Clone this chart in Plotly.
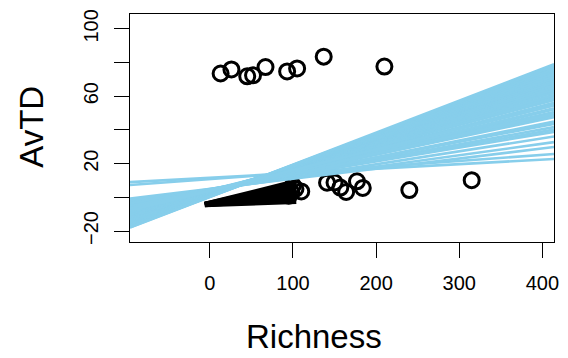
import plotly.graph_objects as go

# ---------------- data ----------------
# regression lines (abline style): intercepts and slopes
line_intercepts = [11.6, 10.8, 5.0, 4.6, 4.2, 4.9, 4.4, 4.7, 4.0, 4.5, 3.9, 4.3, 4.1, 3.6,
                   4.4, 3.8, 3.2, 3.9, 3.5, 3.0, 3.7, 2.9, 3.3, 2.6, 3.1, 2.4, 2.8, 2.2,
                   2.6, 1.9, 2.3, 1.7, 2.0, 1.4, 1.8, 1.2, 1.5, 0.9, 1.3, 0.7, 1.0, 0.5,
                   0.8, 0.3, 0.6, 0.2, 0.4, 4.6, 4.2, 4.0, 3.8]
line_slopes = [0.027, 0.036, 0.060, 0.068, 0.077, 0.082, 0.090, 0.094, 0.099, 0.104, 0.108,
               0.112, 0.116, 0.119, 0.121, 0.125, 0.128, 0.130, 0.133, 0.136, 0.137, 0.140,
               0.142, 0.145, 0.146, 0.149, 0.151, 0.153, 0.155, 0.157, 0.159, 0.161, 0.163,
               0.165, 0.166, 0.168, 0.170, 0.172, 0.174, 0.176, 0.178, 0.180, 0.182, 0.184,
               0.186, 0.188, 0.190, 0.086, 0.097, 0.110, 0.123]

# dense low-richness cloud (observed, drawn as a fan of black traces)
cloud_x = [-6, 104]
cloud_start_y = [-4.4, -4.4, -4.3, -4.3, -4.2, -4.2, -4.1, -4.1]
cloud_end_y = [-2.4, -0.8, 1.0, 2.8, 4.5, 6.2, 7.9, 9.4]

# individual sites
richness = [13, 26, 45, 52, 67, 93, 105, 137, 210,
            141, 150, 157, 164, 177, 184, 240, 315,
            103, 110, 98, 100, 95]
avtd = [73.5, 75.9, 71.8, 72.4, 77.3, 74.7, 76.5, 83.5, 77.6,
        8.7, 8.8, 5.8, 3.2, 9.5, 5.6, 4.3, 10.2,
        5.0, 3.5, 3.0, 7.0, 1.0]

x_range = [-96, 414]
y_range = [-26.5, 108.8]
x_ticks = [0, 100, 200, 300, 400]
y_ticks = [-20, 0, 20, 40, 60, 80, 100]
y_ticktext = ["\u221220", "", "20", "", "60", "", "100"]

# ---------------- figure ----------------
fig = go.Figure()

# black dense cloud
cx, cy = [], []
for s, e in zip(cloud_start_y, cloud_end_y):
    cx += [cloud_x[0], cloud_x[1], None]
    cy += [s, e, None]
fig.add_trace(go.Scatter(x=cx, y=cy, mode="lines",
                         line=dict(color="black", width=5), hoverinfo="skip",
                         showlegend=False))

fig.add_trace(go.Scatter(x=richness, y=avtd, mode="markers",
                         marker=dict(symbol="circle-open", size=15, color="black",
                                     line=dict(color="black", width=3)),
                         showlegend=False))

# blue regression lines across full plot width
lx, ly = [], []
for a, b in zip(line_intercepts, line_slopes):
    lx += [x_range[0], x_range[1], None]
    ly += [a + b * x_range[0], a + b * x_range[1], None]
fig.add_trace(go.Scatter(x=lx, y=ly, mode="lines",
                         line=dict(color="#87CEEB", width=2.6), hoverinfo="skip",
                         showlegend=False))

font_family = "Liberation Sans, Arial, Helvetica, sans-serif"
axis_common = dict(showgrid=False, zeroline=False, showline=True, linecolor="black",
                   linewidth=1, mirror=True, ticks="outside", ticklen=15, tickwidth=1,
                   tickcolor="black", tickfont=dict(family=font_family, size=20, color="black"))

fig.update_layout(
    width=568, height=358,
    margin=dict(l=130, r=9, t=12, b=116),
    plot_bgcolor="white", paper_bgcolor="white",
    xaxis=dict(range=x_range, tickvals=x_ticks, ticklabelstandoff=8, **axis_common),
    yaxis=dict(range=y_range, tickvals=y_ticks, ticktext=y_ticktext, tickangle=-90,
               ticklabelstandoff=8, **axis_common),
    annotations=[
        dict(text="Richness", xref="paper", yref="paper", x=0.4336, y=-0.413,
             xanchor="center", yanchor="middle", showarrow=False,
             font=dict(family=font_family, size=33, color="black")),
        dict(text="AvTD", xref="paper", yref="paper", x=-0.233, y=0.5065,
             xanchor="center", yanchor="middle", showarrow=False, textangle=-90,
             font=dict(family=font_family, size=33, color="black")),
    ],
)

fig.write_html("out.html")
